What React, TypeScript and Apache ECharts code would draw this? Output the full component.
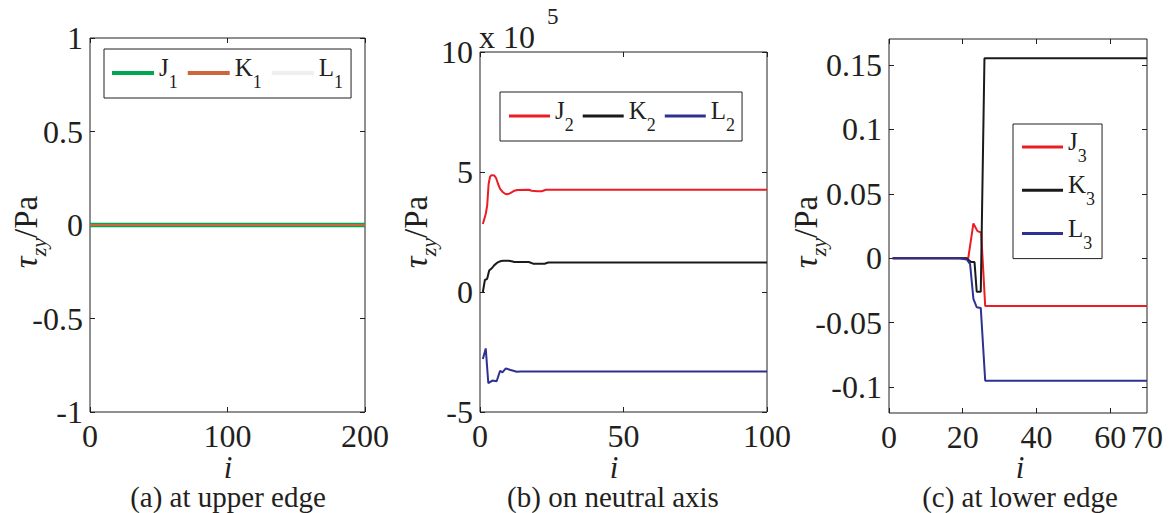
import React, { useEffect, useRef } from 'react';
import * as echarts from 'echarts';

const FONT = "'Liberation Serif', 'Times New Roman', serif";
const INK = '#231f20';

// ---------- panel (a): at upper edge ----------
const aIdx = [0, 200];
const aJ1 = [0, 0];
const aK1 = [0, 0];
const aL1 = [0, 0];
const aXTicks = [0, 100, 200];
const aYTicks = [-1, -0.5, 0, 0.5, 1];

// ---------- panel (b): on neutral axis (values x 10^5 Pa) ----------
const bJ2I = [1, 2, 2.5, 3, 3.5, 4, 5, 5.6, 6.3, 7, 7.8, 8.6, 9.4, 10.2, 11, 12, 13, 17, 18, 20, 21.5, 23, 100];
const bJ2V = [2.83, 3.25, 3.6, 4.5, 4.8, 4.87, 4.85, 4.75, 4.5, 4.3, 4.18, 4.1, 4.07, 4.1, 4.15, 4.22, 4.25, 4.26, 4.22, 4.2, 4.2, 4.26, 4.26];
const bK2I = [1, 1.7, 2.5, 3.2, 4.2, 5, 6, 7, 8, 10, 11, 12, 17, 18.5, 22.5, 23.8, 100];
const bK2V = [0, 0.5, 0.55, 0.9, 1.0, 1.12, 1.22, 1.28, 1.3, 1.3, 1.28, 1.25, 1.25, 1.18, 1.18, 1.23, 1.23];
const bL2I = [1, 2, 2.9, 4.3, 5.8, 7, 7.8, 9, 10.4, 12.8, 14, 100];
const bL2V = [-2.79, -2.35, -3.8, -3.69, -3.72, -3.28, -3.35, -3.18, -3.24, -3.32, -3.31, -3.31];
const bXTicks = [0, 50, 100];
const bYTicks = [-5, 0, 5, 10];

// ---------- panel (c): at lower edge ----------
const cJ3I = [1, 21.5, 22.9, 24, 25, 26.1, 70];
const cJ3V = [0, 0, 0.027, 0.021, 0.02, -0.037, -0.037];
const cK3I = [1, 21, 22.3, 23.2, 23.8, 24.9, 25.9, 70];
const cK3V = [0, 0, -0.003, -0.003, -0.026, -0.026, 0.155, 0.155];
const cL3I = [1, 19, 21.1, 22, 22.9, 23.8, 24.9, 26.1, 70];
const cL3V = [0, 0, -0.001, -0.0045, -0.0315, -0.038, -0.0385, -0.095, -0.095];
const cXLabels = [0, 20, 40, 60, 70];
const cXTicks = [0, 20, 40, 60];
const cYTicks = [-0.1, -0.05, 0, 0.05, 0.1, 0.15];

const zip = (i: number[], v: number[]) => i.map((x, k) => [x, v[k]]);

const tick = (vals: number[]) => ({
  show: true,
  inside: true,
  length: 5,
  customValues: vals,
  lineStyle: { color: INK, width: 1 },
});

const label = (vals: number[], margin: number) => ({
  show: true,
  customValues: vals,
  margin,
  fontFamily: FONT,
  fontSize: 32,
  color: INK,
});

function xPair(g: number, min: number, max: number, labels: number[], ticks: number[]) {
  const base = {
    type: 'value',
    gridIndex: g,
    min,
    max,
    axisLine: { show: false, onZero: false },
    splitLine: { show: false },
  };
  return [
    { ...base, position: 'bottom', axisTick: tick(ticks), axisLabel: label(labels, 8) },
    { ...base, position: 'top', axisTick: tick(ticks), axisLabel: { show: false } },
  ];
}

function yPair(g: number, min: number, max: number, labels: number[], ticks: number[]) {
  const base = {
    type: 'value',
    gridIndex: g,
    min,
    max,
    axisLine: { show: false, onZero: false },
    splitLine: { show: false },
  };
  return [
    { ...base, position: 'left', axisTick: tick(ticks), axisLabel: label(labels, 7) },
    { ...base, position: 'right', axisTick: tick(ticks), axisLabel: { show: false } },
  ];
}

function line(name: string, g: number, idx: number[], v: number[], color: string, width: number, z = 2) {
  return {
    type: 'line',
    name,
    xAxisIndex: 2 * g,
    yAxisIndex: 2 * g,
    data: zip(idx, v),
    showSymbol: false,
    symbol: 'none',
    lineStyle: { color, width },
    itemStyle: { color },
    z,
  };
}

const legendRich = {
  b: { fontFamily: FONT, fontSize: 25, lineHeight: 36, verticalAlign: 'top', color: INK },
  s: { fontFamily: FONT, fontSize: 18, lineHeight: 36, verticalAlign: 'bottom', color: INK },
};

const legendBase = {
  show: true,
  icon: 'rect',
  itemWidth: 42,
  itemHeight: 3,
  borderColor: INK,
  borderWidth: 1,
  borderRadius: 0,
  backgroundColor: '#ffffff',
  selectedMode: false,
  formatter: (n: string) => `{b|${n.slice(0, 1)}}{s|${n.slice(1)}}`,
  textStyle: { fontFamily: FONT, rich: legendRich },
  z: 10,
};

const yRich = {
  t: { fontFamily: FONT, fontSize: 33, fontStyle: 'italic', lineHeight: 46, verticalAlign: 'middle', fill: INK },
  s: { fontFamily: FONT, fontSize: 22, fontStyle: 'italic', lineHeight: 46, verticalAlign: 'bottom', fill: INK },
  m: { fontFamily: FONT, fontSize: 33, lineHeight: 46, verticalAlign: 'middle', fill: INK },
};

const yTitle = (x: number) => ({
  type: 'text',
  x,
  y: 232,
  rotation: Math.PI / 2,
  style: { text: '{t|τ}{s|zy}{m|/Pa}', rich: yRich, fontFamily: FONT, align: 'center', verticalAlign: 'middle', fill: INK },
});

const iTitle = (x: number) => ({
  type: 'text',
  x,
  y: 467,
  style: { text: 'i', fontFamily: FONT, fontSize: 31, fontStyle: 'italic', fill: INK, align: 'center', verticalAlign: 'middle' },
});

const caption = (x: number, text: string) => ({
  type: 'text',
  x,
  y: 497,
  style: { text, fontFamily: FONT, fontSize: 29, fill: INK, align: 'center', verticalAlign: 'middle' },
});

export default function App() {
  const ref = useRef<HTMLDivElement>(null);
  useEffect(() => {
    if (!ref.current) return;
    const chart = echarts.init(ref.current, undefined, { renderer: 'svg' });
    const gridBase = { show: true, borderColor: INK, borderWidth: 1, backgroundColor: '#ffffff', containLabel: false, outerBoundsMode: 'none' };
    const option: any = {
      animation: false,
      backgroundColor: '#ffffff',
      textStyle: { fontFamily: FONT },
      grid: [
        { ...gridBase, left: 90, top: 38, width: 275, height: 374 },
        { ...gridBase, left: 480, top: 52, width: 287, height: 360 },
        { ...gridBase, left: 889, top: 39, width: 258, height: 374 },
      ],
      xAxis: [
        ...xPair(0, 0, 200, aXTicks, aXTicks),
        ...xPair(1, 0, 100, bXTicks, bXTicks),
        ...xPair(2, 0, 70, cXLabels, cXTicks),
      ],
      yAxis: [
        ...yPair(0, -1, 1, aYTicks, aYTicks),
        ...yPair(1, -5, 10, bYTicks, bYTicks),
        ...yPair(2, -0.12, 0.17, cYTicks, cYTicks),
      ],
      legend: [
        { ...legendBase, data: ['J1', 'K1', 'L1'], orient: 'horizontal', left: 104, top: 49, padding: [6, 8, 7, 8], itemGap: 10, itemHeight: 4 },
        { ...legendBase, data: ['J2', 'K2', 'L2'], orient: 'horizontal', left: 500, top: 92, padding: [6, 7, 7, 9], itemGap: 9, itemWidth: 41 },
        { ...legendBase, data: ['J3', 'K3', 'L3'], orient: 'vertical', left: 1013, top: 124, padding: [5, 7, 7, 9], itemGap: 7.3, itemWidth: 41 },
      ],
      series: [
        line('J1', 0, aIdx, aJ1, '#00a651', 4.5),
        line('K1', 0, aIdx, aK1, '#d0643a', 2),
        line('L1', 0, aIdx, aL1, '#eeeeee', 1, 1),
        line('J2', 1, bJ2I, bJ2V, '#ec1c24', 2),
        line('K2', 1, bK2I, bK2V, '#1a1a1a', 2),
        line('L2', 1, bL2I, bL2V, '#2e3192', 2),
        line('J3', 2, cJ3I, cJ3V, '#ec1c24', 2),
        line('K3', 2, cK3I, cK3V, '#1a1a1a', 2),
        line('L3', 2, cL3I, cL3V, '#2e3192', 2),
      ],
      graphic: [
        yTitle(26),
        yTitle(416),
        yTitle(806),
        iTitle(228),
        iTitle(614),
        iTitle(1020),
        caption(228, '(a) at upper edge'),
        caption(613, '(b) on neutral axis'),
        caption(1020, '(c) at lower edge'),
        { type: 'text', x: 479, y: 53, style: { text: 'x 10', fontFamily: FONT, fontSize: 32, fill: INK, align: 'left', verticalAlign: 'bottom' } },
        { type: 'text', x: 547, y: 5, style: { text: '5', fontFamily: FONT, fontSize: 23, fill: INK, align: 'left', verticalAlign: 'top' } },
      ],
    };
    chart.setOption(option);
    return () => chart.dispose();
  }, []);
  return (
    <div
      ref={ref}
      style={{ position: 'absolute', left: 0, top: 0, width: 1170, height: 513, background: '#ffffff' }}
    />
  );
}
